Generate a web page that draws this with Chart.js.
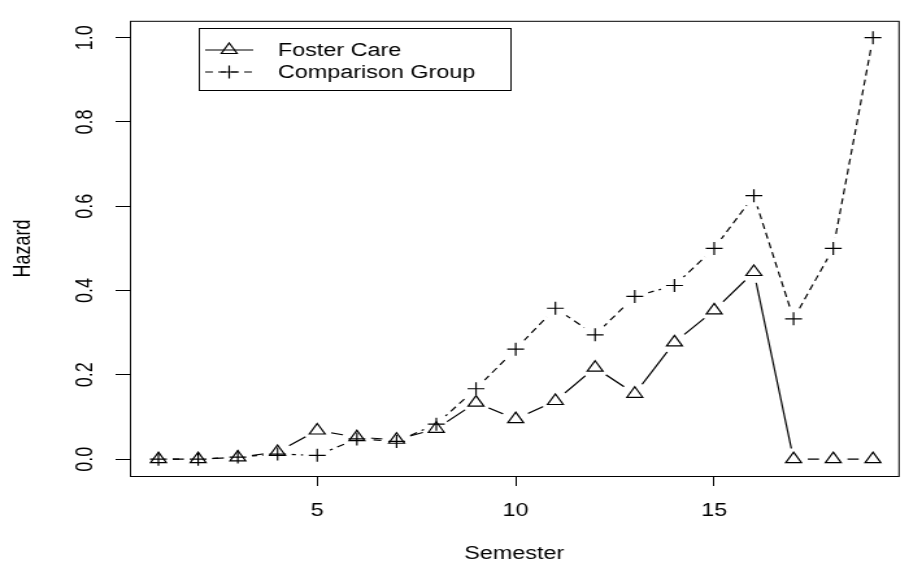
<!DOCTYPE html>
<html>
<head>
<meta charset="utf-8">
<script src="https://cdn.jsdelivr.net/npm/chart.js@4/dist/chart.umd.min.js"></script>
<style>
  html, body { margin: 0; padding: 0; background: #fff; overflow: hidden; }
  #hazardChart { display: block; }
</style>
</head>
<body>
<!-- the reference is stretched sideways, so draw at 700 wide and show it 909 wide -->
<canvas id="hazardChart" width="700" height="563" style="width:909px;height:563px"></canvas>
<script>
const semesters = [1, 2, 3, 4, 5, 6, 7, 8, 9, 10, 11, 12, 13, 14, 15, 16, 17, 18, 19];
const fosterCare = [0, 0, 0.004, 0.017, 0.068, 0.052, 0.046, 0.072, 0.134, 0.095, 0.138, 0.217, 0.155, 0.277, 0.353, 0.444, 0, 0, 0];
const comparisonGroup = [0, 0, 0.005, 0.012, 0.009, 0.048, 0.042, 0.083, 0.167, 0.261, 0.358, 0.295, 0.386, 0.412, 0.5, 0.625, 0.333, 0.5, 1.0];
const xTicks = [5, 10, 15];
const yTicks = [0, 0.2, 0.4, 0.6, 0.8, 1.0];
const seriesNames = ["Foster Care", "Comparison Group"];

const FONT = "'Liberation Sans', Arial, sans-serif";
const GAP = 11; // R type="b": lines stop short of the symbols

const toPoints = vals => semesters.map((s, i) => ({ x: s, y: vals[i] }));

// line datasets get holes cut round each point
const gapPlugin = {
    id: "gaps",
    beforeDatasetDraw(chart, args) {
        const ds = chart.data.datasets[args.index];
        if (!ds.gapLine) return;
        const ctx = chart.ctx;
        const pts = args.meta.data;
        ctx.save();
        ctx.beginPath();
        ctx.rect(0, 0, chart.width, chart.height);
        pts.forEach(p => {
            ctx.moveTo(p.x + GAP, p.y);
            ctx.arc(p.x, p.y, GAP, 0, Math.PI * 2);
        });
        ctx.clip("evenodd");
    },
    afterDatasetDraw(chart, args) {
        if (chart.data.datasets[args.index].gapLine) chart.ctx.restore();
    }
};

function triangle(ctx, x, y, r) {
    ctx.beginPath();
    for (let k = 0; k < 3; k++) {
        const a = k * 2 * Math.PI / 3;
        const px = x + Math.sin(a) * r, py = y - Math.cos(a) * r;
        if (k === 0) ctx.moveTo(px, py); else ctx.lineTo(px, py);
    }
    ctx.closePath();
    ctx.stroke();
}

function plus(ctx, x, y, r) {
    ctx.beginPath();
    ctx.moveTo(x - r, y); ctx.lineTo(x + r, y);
    ctx.moveTo(x, y - r); ctx.lineTo(x, y + r);
    ctx.stroke();
}

// box round the plot + legend like base R
const boxPlugin = {
    id: "box",
    afterDraw(chart) {
        const ctx = chart.ctx;
        const a = chart.chartArea;
        ctx.save();
        ctx.strokeStyle = "#000";
        ctx.lineWidth = 1;
        ctx.strokeRect(a.left + 0.5, a.top + 0.5, a.right - a.left, a.bottom - a.top);

        ctx.strokeRect(153.5, 28.5, 240, 62);
        ctx.font = "18px " + FONT;
        ctx.fillStyle = "#000";
        ctx.textBaseline = "middle";
        ctx.textAlign = "left";

        ctx.lineWidth = 1.2;
        ctx.beginPath();
        ctx.moveTo(158, 50); ctx.lineTo(195, 50);
        ctx.stroke();
        triangle(ctx, 176.5, 50, 7);
        ctx.fillText(seriesNames[0], 214, 51);

        ctx.setLineDash([6, 4]);
        ctx.beginPath();
        ctx.moveTo(158, 72); ctx.lineTo(195, 72);
        ctx.stroke();
        ctx.setLineDash([]);
        plus(ctx, 176.5, 72, 6.5);
        ctx.fillText(seriesNames[1], 214, 73);
        ctx.restore();
    }
};

const canvas = document.getElementById("hazardChart");
new Chart(canvas, {
    type: "line",
    data: {
        datasets: [
            {
                label: seriesNames[0],
                data: toPoints(fosterCare),
                gapLine: true,
                borderColor: "#000",
                borderWidth: 1.2,
                pointRadius: 0,
                fill: false
            },
            {
                label: seriesNames[1],
                data: toPoints(comparisonGroup),
                gapLine: true,
                borderColor: "#000",
                borderWidth: 1.2,
                borderDash: [6, 4],
                pointRadius: 0,
                fill: false
            },
            {
                label: seriesNames[0] + " points",
                data: toPoints(fosterCare),
                showLine: false,
                pointStyle: "triangle",
                pointRadius: 7,
                pointBorderWidth: 1.2,
                pointBorderColor: "#000",
                pointBackgroundColor: "rgba(0,0,0,0)"
            },
            {
                label: seriesNames[1] + " points",
                data: toPoints(comparisonGroup),
                showLine: false,
                pointStyle: "cross",
                pointRadius: 6.5,
                pointBorderWidth: 1.2,
                pointBorderColor: "#000"
            }
        ]
    },
    options: {
        responsive: false,
        devicePixelRatio: 1,
        animation: false,
        events: [],
        layout: { padding: { top: 10, left: 0, right: 0, bottom: 0 } },
        plugins: {
            legend: { display: false },
            tooltip: { enabled: false }
        },
        scales: {
            x: {
                type: "linear",
                min: 0.28,
                max: 19.64,
                afterBuildTicks: s => { s.ticks = xTicks.map(v => ({ value: v })); },
                afterFit: s => { s.height = 87; },
                grid: { drawOnChartArea: false, drawTicks: true, tickLength: 10, color: "#000", lineWidth: 1 },
                border: { display: false },
                ticks: { color: "#000", font: { family: FONT, size: 18 }, padding: 14, maxRotation: 0, autoSkip: false },
                title: { display: true, text: "Semester", color: "#000", font: { family: FONT, size: 18 }, padding: { top: 0, bottom: -2 } }
            },
            y: {
                type: "linear",
                min: -0.04,
                max: 1.04,
                afterBuildTicks: s => { s.ticks = yTicks.map(v => ({ value: v })); },
                afterFit: s => { s.width = 100; },
                grid: { drawOnChartArea: false, drawTicks: true, tickLength: 11, color: "#000", lineWidth: 1 },
                border: { display: false },
                ticks: {
                    color: "#000",
                    font: { family: FONT, size: 18 },
                    padding: 10,
                    minRotation: 90,
                    maxRotation: 90,
                    crossAlign: "center",
                    autoSkip: false,
                    callback: v => v.toFixed(1)
                },
                title: { display: true, text: "Hazard", color: "#000", font: { family: FONT, size: 18 }, padding: { top: 7, bottom: 0 } }
            }
        }
    },
    plugins: [gapPlugin, boxPlugin]
});
// keep the sideways stretch even if Chart.js rewrote the inline size
canvas.style.width = "909px";
canvas.style.height = "563px";
</script>
</body>
</html>
